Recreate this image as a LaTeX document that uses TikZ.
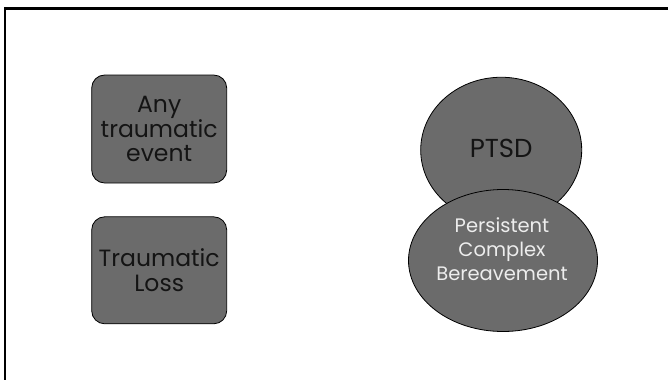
\documentclass[tikz,border=0pt]{standalone}
\usepackage{fontspec}
\setmainfont{Poppins}
\usetikzlibrary{shapes.geometric}
\definecolor{shapegray}{HTML}{6B6B6B}
\definecolor{darktext}{HTML}{141414}
\definecolor{lighttext}{HTML}{EDEDED}
\tikzset{
  boxshape/.style={draw=black, line width=0.8pt, fill=shapegray, rounded corners=13pt,
    minimum width=135pt, minimum height=108pt, inner sep=0pt, align=center,
    text=darktext, font=\fontsize{23.5}{24.5}\selectfont},
  ellshape/.style={ellipse, draw=black, line width=0.8pt, fill=shapegray, inner sep=0pt},
  frameline/.style={line width=2.5pt, black}
}
\begin{document}
\begin{tikzpicture}[x=1pt, y=-1pt]
\useasboundingbox (0,0) rectangle (668,380);
\coordinate (frTR) at (668,8.5);
\coordinate (frTL) at (5,8.5);
\coordinate (frBL) at (5,380);
\draw[frameline] (frTR) -- (frTL) -- (frBL);
\node[boxshape] (any) at (159.2,129) {Any\\traumatic\\event};
\node[boxshape, minimum height=107pt] (loss) at (159.2,270.3) {Traumatic\\Loss};
\node[ellshape, minimum width=161pt, minimum height=145.5pt] (ptsd) at (501.2,150) {};
\node[text=darktext, font=\fontsize{26}{28}\selectfont, inner sep=0pt] (ptsdtext) at (501.2,148) {PTSD};
\node[ellshape, minimum width=189pt, minimum height=142pt] (pcb) at (503,260.5) {};
\node[text=lighttext, font=\fontsize{19.5}{24}\selectfont, align=center, inner sep=0pt] (pcbtext) at (502,249) {Persistent\\Complex\\Bereavement};
\end{tikzpicture}
\end{document}
